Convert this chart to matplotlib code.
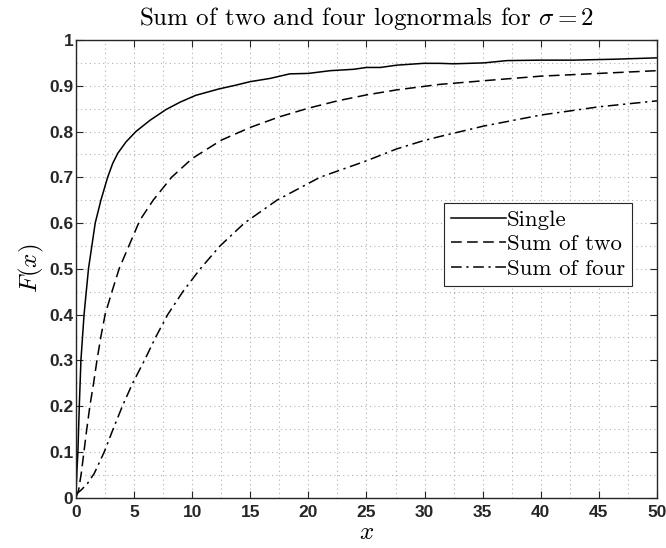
import matplotlib
matplotlib.use("Agg")
import matplotlib.pyplot as plt
from matplotlib.ticker import MultipleLocator

# values
x_single = [0, 0.04, 0.09, 0.17, 0.29, 0.43, 0.7, 1.08, 1.66, 2.15, 2.73, 3.16, 3.59, 4.3,
            5.16, 6.4, 7.75, 8.95, 10.3, 12.3, 13.7, 15.0, 16.7, 18.4, 20.0, 21.9, 23.9,
            25.0, 26.2, 27.6, 29.9, 31.3, 32.5, 35.1, 37.1, 40.0, 42.8, 46.3, 50.0]
F_single = [0, 0.03, 0.06, 0.10, 0.20, 0.30, 0.40, 0.50, 0.60, 0.65, 0.70, 0.73, 0.752, 0.777,
            0.80, 0.825, 0.848, 0.864, 0.879, 0.893, 0.901, 0.909, 0.916, 0.926, 0.927, 0.933, 0.936,
            0.940, 0.940, 0.945, 0.949, 0.949, 0.948, 0.950, 0.955, 0.956, 0.956, 0.958, 0.961]

x_two = [0, 0.23, 0.46, 0.69, 0.92, 1.2, 1.52, 1.81, 2.15, 2.52, 3.1, 3.73, 4.59, 5.5,
         6.65, 8.23, 10.0, 12.5, 15.0, 17.5, 20.0, 22.5, 25.0, 27.6, 31.3, 35.1,
         40.0, 45.0, 50.0]
F_two = [0, 0.016, 0.053, 0.10, 0.147, 0.20, 0.25, 0.30, 0.352, 0.401, 0.45, 0.501, 0.552, 0.606,
         0.65, 0.70, 0.741, 0.781, 0.809, 0.832, 0.851, 0.867, 0.880, 0.891, 0.903, 0.911,
         0.921, 0.927, 0.933]

x_four = [0, 0.14, 0.43, 1.0, 1.58, 2.44, 3.16, 4.0, 4.88, 5.9, 6.85, 7.9, 9.2, 10.7,
          12.4, 14.5, 17.3, 21.0, 25.0, 27.6, 29.9, 31.3, 35.1, 40.0, 45.0, 50.0]
F_four = [0.008, 0.010, 0.016, 0.031, 0.053, 0.10, 0.147, 0.20, 0.25, 0.30, 0.35, 0.40, 0.45, 0.50,
          0.55, 0.60, 0.65, 0.70, 0.736, 0.762, 0.780, 0.789, 0.812, 0.836, 0.854, 0.867]

x_ticks = list(range(0, 51, 5))
x_tick_labels = [str(v) for v in x_ticks]
y_ticks = [0, 0.1, 0.2, 0.3, 0.4, 0.5, 0.6, 0.7, 0.8, 0.9, 1]
y_tick_labels = ["0", "0.1", "0.2", "0.3", "0.4", "0.5", "0.6", "0.7", "0.8", "0.9", "1"]

plt.rcParams["mathtext.fontset"] = "cm"

fig = plt.figure(figsize=(6.66, 5.48), dpi=100)
ax = fig.add_axes([0.114, 0.092, 0.8725, 0.835])

ax.plot(x_single, F_single, color="black", linestyle="-", linewidth=1.1, label="Single")
ax.plot(x_two, F_two, color="black", linestyle=(0, (7, 3.5)), linewidth=1.1, label="Sum of two")
ax.plot(x_four, F_four, color="black", linestyle=(0, (7, 3, 1.5, 3)), linewidth=1.1,
        label="Sum of four")

dark = "#262626"
tick_font = dict(fontweight="bold", family="Liberation Sans", fontsize=12.5, color=dark)

ax.set_xlim(0, 50)
ax.set_ylim(0, 1)
ax.set_xticks(x_ticks, labels=x_tick_labels, **tick_font)
ax.set_yticks(y_ticks, labels=y_tick_labels, **tick_font)
ax.xaxis.set_minor_locator(MultipleLocator(2.5))
ax.yaxis.set_minor_locator(MultipleLocator(0.05))

ax.tick_params(which="major", direction="in", length=5, width=0.8, top=True, right=True,
               color=dark)
ax.tick_params(axis="x", which="major", pad=5)
ax.tick_params(axis="y", which="major", pad=2)
ax.tick_params(which="minor", length=0, top=True, right=True)
for s in ax.spines.values():
    s.set_color(dark)
    s.set_linewidth(1.0)

ax.grid(which="both", linestyle=(0, (1, 3)), color="#b0b0b0", linewidth=0.8)
ax.set_axisbelow(True)

ax.set_title(r"Sum of two and four lognormals for $\sigma = 2$", family="cmr10", fontsize=18, pad=11)
ax.set_xlabel(r"$x$", fontsize=18, labelpad=0)
ax.set_ylabel(r"$F(x)$", fontsize=18, labelpad=2)

leg = ax.legend(loc="upper right", bbox_to_anchor=(0.957, 0.644), prop={"family": "cmr10", "size": 16.5},
                fancybox=False, framealpha=1, edgecolor=dark, handlelength=2.4,
                handletextpad=0.05, borderpad=0.3, labelspacing=0.2, borderaxespad=0)
leg.get_frame().set_linewidth(0.8)

fig.savefig("out.png", dpi=100)
